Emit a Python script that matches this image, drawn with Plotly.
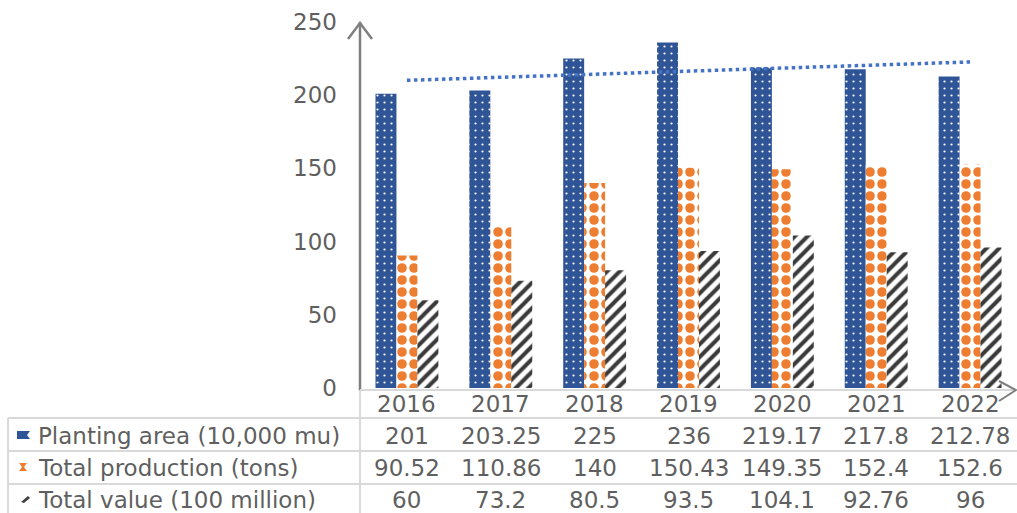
import numpy as np
import plotly.graph_objects as go

# ---- data ----
years = ["2016", "2017", "2018", "2019", "2020", "2021", "2022"]
planting_area = [201, 203.25, 225, 236, 219.17, 217.8, 212.78]
total_production = [90.52, 110.86, 140, 150.43, 149.35, 152.4, 152.6]
total_value = [60, 73.2, 80.5, 93.5, 104.1, 92.76, 96]
series_names = ["Planting area (10,000 mu)", "Total production (tons)", "Total value (100 million)"]
y_ticks = [0, 50, 100, 150, 200, 250]

# ---- canvas geometry (pixels) ----
W, H = 1017, 513
L, R, T, B = 360, 0, 22, 125
PW, PH = W - L - R, H - T - B
FONT = "DejaVu Sans"
FSIZE = 23
TXT = "#5F5F5F"
GRID = "#D9D9D9"
AXIS = "#7F7F7F"


def px(x):
    return (x - L) / PW


def py(y):
    return (H - B - y) / PH


def col_center(j):
    return (j + 0.5) / len(years)


fig = go.Figure()

fig.add_bar(
    x=years, y=planting_area, name=series_names[0],
    marker=dict(color="#2F5597", line=dict(width=0),
                pattern=dict(shape=".", fgcolor="white", bgcolor="#2F5597",
                             fgopacity=1, fillmode="replace", size=7, solidity=0.08)),
)
fig.add_bar(
    x=years, y=total_production, name=series_names[1],
    marker=dict(color="#ED7D31", line=dict(width=0),
                pattern=dict(shape=".", fgcolor="#ED7D31", bgcolor="white",
                             fgopacity=1, fillmode="replace", size=12, solidity=0.5)),
)
fig.add_bar(
    x=years, y=total_value, name=series_names[2],
    marker=dict(color="#404040", line=dict(width=0),
                pattern=dict(shape="/", fgcolor="#3A3A3A", bgcolor="white",
                             fgopacity=1, fillmode="replace", size=9, solidity=0.45)),
)

# linear trend of planting area
idx = np.arange(len(years))
k, b0 = np.polyfit(idx, planting_area, 1)
fig.add_scatter(x=years, y=k * idx + b0, mode="lines",
                line=dict(color="#4472C4", width=3.5, dash="dot"),
                showlegend=False, hoverinfo="skip")

shapes = []
annotations = []

# axes: y axis with arrow at the top, x axis with arrow at the right
shapes.append(dict(type="line", xref="paper", yref="paper",
                   x0=px(360), x1=px(360), y0=py(391), y1=py(22),
                   line=dict(color=AXIS, width=2.5)))
shapes.append(dict(type="path", xref="paper", yref="paper",
                   path=f"M{px(348)},{py(39)} L{px(360)},{py(23)} L{px(372)},{py(39)}",
                   line=dict(color=AXIS, width=2.5)))
shapes.append(dict(type="line", xref="paper", yref="paper",
                   x0=px(360), x1=px(1016), y0=py(390), y1=py(390),
                   line=dict(color=GRID, width=2)))
shapes.append(dict(type="path", xref="paper", yref="paper",
                   path=f"M{px(999)},{py(381)} L{px(1016)},{py(390)} L{px(999)},{py(401)}",
                   line=dict(color=AXIS, width=2)))

# data table grid
for yy in (418, 451, 484):
    shapes.append(dict(type="line", xref="paper", yref="paper",
                       x0=px(8), x1=px(1017), y0=py(yy), y1=py(yy),
                       line=dict(color=GRID, width=2)))
shapes.append(dict(type="line", xref="paper", yref="paper",
                   x0=px(8), x1=px(8), y0=py(418), y1=py(513),
                   line=dict(color=GRID, width=2)))
shapes.append(dict(type="line", xref="paper", yref="paper",
                   x0=px(360), x1=px(360), y0=py(390), y1=py(513),
                   line=dict(color=GRID, width=2)))

# legend keys in the table
shapes.append(dict(type="path", xref="paper", yref="paper",
                   path=(f"M{px(17)},{py(431)} L{px(30)},{py(431)} L{px(27)},{py(435)} "
                         f"L{px(30)},{py(439)} L{px(17)},{py(439)} Z"),
                   fillcolor="#2F5597", line=dict(width=0)))
shapes.append(dict(type="path", xref="paper", yref="paper",
                   path=(f"M{px(19)},{py(463)} L{px(27)},{py(463)} L{px(24)},{py(467)} "
                         f"L{px(27)},{py(471)} L{px(19)},{py(471)} L{px(22)},{py(467)} Z"),
                   fillcolor="#ED7D31", line=dict(width=0)))
shapes.append(dict(type="path", xref="paper", yref="paper",
                   path=(f"M{px(21)},{py(502)} L{px(28)},{py(496)} L{px(30)},{py(498)} "
                         f"L{px(24)},{py(503)} Z"),
                   fillcolor="#404040", line=dict(width=0)))

# table text
row_y = [404, 436, 468, 500]
rows = [planting_area, total_production, total_value]
cell_font = dict(family=FONT, size=FSIZE, color=TXT)
for i, name in enumerate(series_names):
    annotations.append(dict(text=name, xref="paper", yref="paper",
                            x=px(36), y=py(row_y[i + 1]), xanchor="left", yanchor="middle",
                            showarrow=False, font=cell_font))
for j, yr in enumerate(years):
    annotations.append(dict(text=yr, xref="paper", yref="paper", x=col_center(j),
                            y=py(row_y[0]), xanchor="center", yanchor="middle",
                            showarrow=False, font=cell_font))
    for i, vals in enumerate(rows):
        annotations.append(dict(text=f"{vals[j]:g}", xref="paper", yref="paper",
                                x=col_center(j), y=py(row_y[i + 1]),
                                xanchor="center", yanchor="middle",
                                showarrow=False, font=cell_font))

fig.update_layout(
    width=W, height=H,
    margin=dict(l=L, r=R, t=T, b=B),
    paper_bgcolor="white", plot_bgcolor="white",
    barmode="group", bargap=0.33, bargroupgap=0,
    showlegend=False,
    shapes=shapes, annotations=annotations,
    xaxis=dict(type="category", range=[-0.5, 6.5], showticklabels=False,
               showgrid=False, zeroline=False, showline=False, ticks=""),
    yaxis=dict(range=[0, 250], tickvals=y_ticks, showgrid=False, zeroline=False,
               showline=False, ticks="", ticklabelstandoff=22,
               tickfont=dict(family=FONT, size=FSIZE, color=TXT)),
)

fig.write_html("out.html")
